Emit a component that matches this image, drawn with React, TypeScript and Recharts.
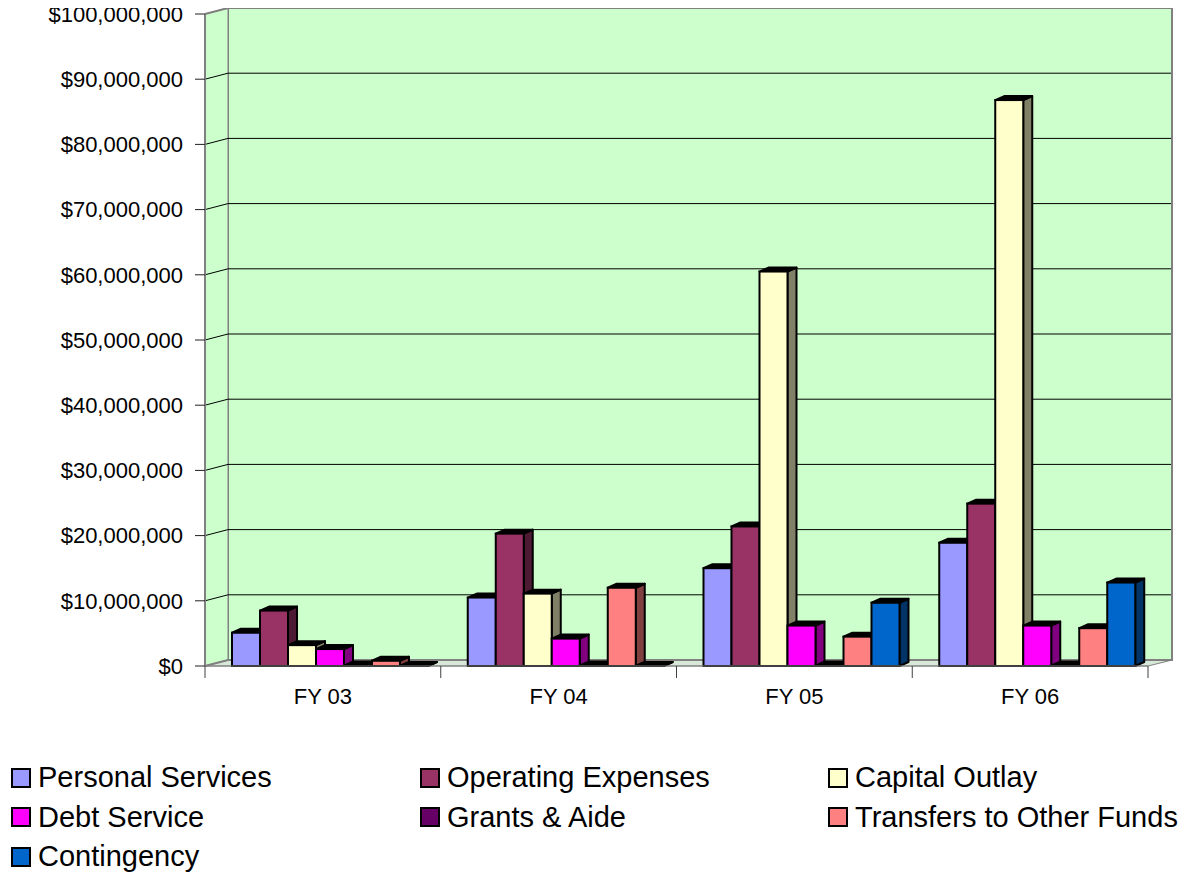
import React from 'react';
import {
  BarChart,
  Bar,
  XAxis,
  YAxis,
  CartesianGrid,
  Legend,
} from 'recharts';

// fiscal years on the category axis
const years = ['FY 03', 'FY 04', 'FY 05', 'FY 06'];

// expenditure by category, dollars
const personalServices = [5100000, 10500000, 15000000, 18900000];
const operatingExpenses = [8500000, 20300000, 21400000, 24900000];
const capitalOutlay = [3200000, 11100000, 60500000, 86800000];
const debtService = [2600000, 4200000, 6200000, 6200000];
const grantsAide = [60000, 60000, 60000, 60000];
const transfers = [800000, 12000000, 4500000, 5800000];
const contingency = [0, 0, 9700000, 12800000];

const yTicks = [
  0, 10000000, 20000000, 30000000, 40000000, 50000000,
  60000000, 70000000, 80000000, 90000000, 100000000,
];

const series = [
  { key: 'ps', name: 'Personal Services', values: personalServices, color: '#9999FF', side: '#4D4D80' },
  { key: 'op', name: 'Operating Expenses', values: operatingExpenses, color: '#993366', side: '#4D1A33' },
  { key: 'co', name: 'Capital Outlay', values: capitalOutlay, color: '#FFFFCC', side: '#808066' },
  { key: 'ds', name: 'Debt Service', values: debtService, color: '#FF00FF', side: '#800080' },
  { key: 'ga', name: 'Grants & Aide', values: grantsAide, color: '#660066', side: '#330033' },
  { key: 'tr', name: 'Transfers to Other Funds', values: transfers, color: '#FF8080', side: '#804040' },
  { key: 'ct', name: 'Contingency', values: contingency, color: '#0066CC', side: '#003366' },
];

const data = years.map((year, i) => {
  const row: Record<string, any> = { year };
  series.forEach((s) => {
    row[s.key] = s.values[i];
  });
  return row;
});

// layout (page pixels, the wrapper cancels the body margin)
const CHART_W = 1191;
const CHART_H = 878;
const PLOT_LEFT = 205;
const PLOT_TOP = 14;
const PLOT_RIGHT = 1148;
const PLOT_BOTTOM = 666;
const WALL_DX = 23; // 3d back wall offset
const WALL_DY = 6;
const BAR_DX = 9; // bar depth
const BAR_DY = 4;
const BAR_SHIFT = 7;
const X_TICK_GAP = 22;

const FONT = '"Liberation Sans", Arial, sans-serif';

const money = (v: number) => '$' + v.toLocaleString('en-US');

const Bar3D = (props: any) => {
  const { x, y, width, height, fill, side } = props;
  if (x == null || y == null || width == null) return null;
  const bx = x + BAR_SHIFT;
  const h = Math.max(0, height || 0);
  const top = `M${bx},${y} L${bx + BAR_DX},${y - BAR_DY} L${bx + width + BAR_DX},${y - BAR_DY} L${bx + width},${y} Z`;
  const sidePath = `M${bx + width},${y} L${bx + width + BAR_DX},${y - BAR_DY} L${bx + width + BAR_DX},${y + h - BAR_DY} L${bx + width},${y + h} Z`;
  return (
    <g>
      <path d={sidePath} fill={side} stroke="#000" strokeWidth={2} strokeLinejoin="round" />
      <path d={top} fill="#000" stroke="#000" strokeWidth={2} strokeLinejoin="round" />
      {h > 0 && (
        <rect x={bx} y={y} width={width} height={h} fill={fill} stroke="#000" strokeWidth={2} />
      )}
    </g>
  );
};

const GridLine = (props: any) => {
  const { x1, x2, y1, index } = props;
  const edge = Math.abs(y1 - PLOT_TOP) < 1 || Math.abs(y1 - PLOT_BOTTOM) < 1;
  return (
    <polyline
      key={`g-${index}`}
      points={`${x1},${y1} ${x1 + WALL_DX},${y1 - WALL_DY} ${x2 + WALL_DX},${y1 - WALL_DY}`}
      fill="none"
      stroke={edge ? '#808080' : '#000'}
      strokeWidth={edge ? 2 : 1}
    />
  );
};

const YearTick = (props: any) => {
  const { x, y, payload, index, width } = props;
  const half = payload?.offset || (width || PLOT_RIGHT - PLOT_LEFT) / years.length / 2;
  const axisY = y - X_TICK_GAP;
  return (
    <g>
      <line x1={x - half} y1={axisY} x2={x - half} y2={axisY + 12} stroke="#404040" />
      {index === years.length - 1 && (
        <line x1={x + half} y1={axisY} x2={x + half} y2={axisY + 12} stroke="#404040" />
      )}
      <text x={x} y={y} dy="0.71em" textAnchor="middle" fill="#000" style={{ fontSize: 22, fontFamily: FONT }}>
        {payload.value}
      </text>
    </g>
  );
};

const LegendBox = (props: any) => {
  const payload = props.payload || [];
  // keep the series order, not alphabetical
  const items = series
    .map((s) => payload.find((p: any) => p.value === s.name))
    .filter(Boolean);
  return (
    <div
      style={{
        display: 'grid',
        gridTemplateColumns: '409px 408px 370px',
        gridAutoRows: '39.5px',
        paddingLeft: 11,
        fontFamily: FONT,
        fontSize: 29,
        color: '#000',
        textAlign: 'left',
      }}
    >
      {items.map((p: any) => (
        <div key={p.value} style={{ display: 'flex', alignItems: 'center', whiteSpace: 'nowrap' }}>
          <span
            style={{
              display: 'inline-block',
              width: 20,
              height: 20,
              boxSizing: 'border-box',
              border: '2px solid #000',
              background: p.color,
              marginRight: 7,
            }}
          />
          <span>{p.value}</span>
        </div>
      ))}
    </div>
  );
};

export default function App() {
  const backL = PLOT_LEFT + WALL_DX;
  const backR = PLOT_RIGHT + WALL_DX + 1;
  const backT = PLOT_TOP - WALL_DY;
  const backB = PLOT_BOTTOM - WALL_DY;
  return (
    <div style={{ position: 'relative', width: CHART_W, height: CHART_H, margin: '-8px 0 0 -8px' }}>
      <svg
        width={CHART_W}
        height={CHART_H}
        style={{ position: 'absolute', left: 0, top: 0 }}
      >
        {/* back wall */}
        <rect
          x={backL}
          y={backT}
          width={backR - backL}
          height={backB - backT}
          fill="#CCFFCC"
          stroke="#808080"
          strokeWidth={2}
        />
        {/* side wall */}
        <polygon
          points={`${PLOT_LEFT},${PLOT_TOP} ${backL},${backT} ${backL},${backB} ${PLOT_LEFT},${PLOT_BOTTOM}`}
          fill="#CCFFCC"
          stroke="#808080"
          strokeWidth={1}
        />
        {/* floor */}
        <polygon
          points={`${PLOT_LEFT},${PLOT_BOTTOM} ${backL},${backB} ${backR},${backB} ${PLOT_RIGHT},${PLOT_BOTTOM}`}
          fill="#D8E8D8"
          stroke="#808080"
          strokeWidth={1}
        />
      </svg>
      <BarChart
        width={CHART_W}
        height={CHART_H}
        data={data}
        margin={{ top: PLOT_TOP, right: CHART_W - PLOT_RIGHT, bottom: CHART_H - PLOT_BOTTOM - 30, left: 0 }}
        barCategoryGap={20}
        barGap={0}
      >
        <CartesianGrid vertical={false} horizontal={GridLine} />
        <XAxis
          dataKey="year"
          height={30}
          tickLine={false}
          tickSize={0}
          tickMargin={X_TICK_GAP}
          axisLine={{ stroke: '#808080', strokeWidth: 1 }}
          tick={<YearTick />}
          interval={0}
        />
        <YAxis
          width={PLOT_LEFT}
          domain={[0, 100000000]}
          ticks={yTicks}
          interval={0}
          tickFormatter={money}
          tickSize={10}
          tickMargin={12}
          axisLine={{ stroke: '#808080', strokeWidth: 2 }}
          tickLine={{ stroke: '#202020' }}
          tick={{ fill: '#000', fontSize: 22, fontFamily: FONT }}
        />
        <Legend
          layout="horizontal"
          verticalAlign="middle"
          align="center"
          content={<LegendBox />}
          wrapperStyle={{ position: 'absolute', top: 758, left: 0, width: CHART_W }}
        />
        {series.map((s) => (
          <Bar
            key={s.key}
            dataKey={s.key}
            name={s.name}
            fill={s.color}
            isAnimationActive={false}
            shape={(p: any) => <Bar3D {...p} side={s.side} />}
          />
        ))}
      </BarChart>
    </div>
  );
}
